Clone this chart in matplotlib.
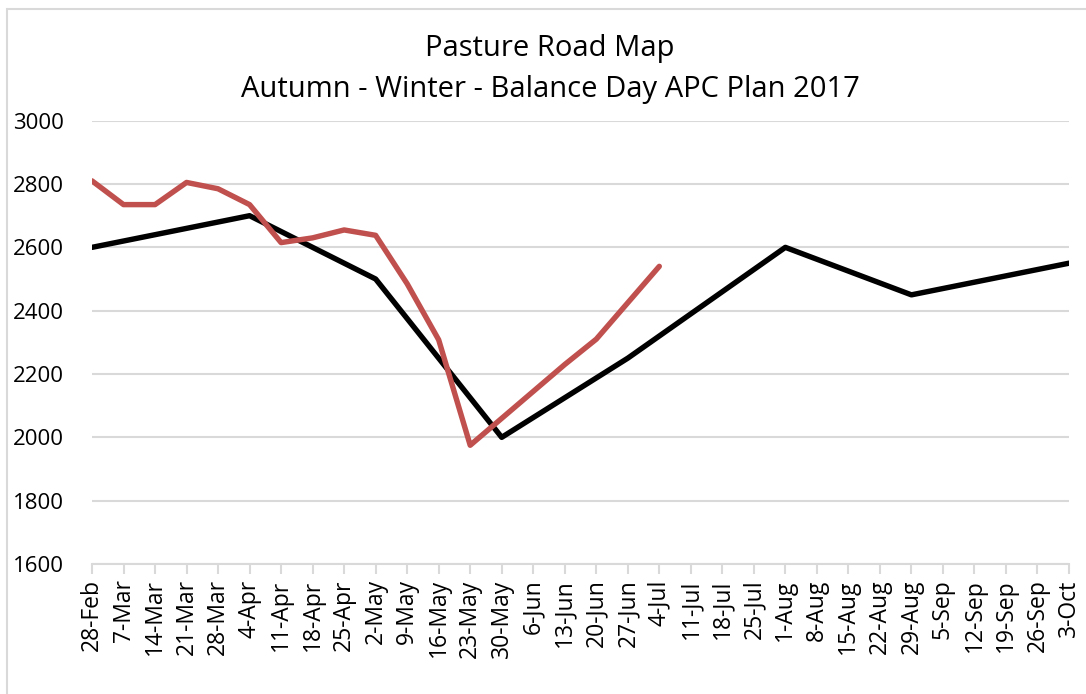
import matplotlib
matplotlib.use("Agg")
import matplotlib.pyplot as plt
import numpy as np
from matplotlib.patches import Rectangle

categories = ["28-Feb", "7-Mar", "14-Mar", "21-Mar", "28-Mar", "4-Apr", "11-Apr", "18-Apr",
              "25-Apr", "2-May", "9-May", "16-May", "23-May", "30-May", "6-Jun", "13-Jun",
              "20-Jun", "27-Jun", "4-Jul", "11-Jul", "18-Jul", "25-Jul", "1-Aug", "8-Aug",
              "15-Aug", "22-Aug", "29-Aug", "5-Sep", "12-Sep", "19-Sep", "26-Sep", "3-Oct"]

nan = np.nan
plan = [2600, nan, nan, nan, nan, 2700, nan, nan, nan, 2500, nan, nan, nan, 2000, nan, nan,
        nan, 2250, nan, nan, nan, nan, 2600, nan, nan, nan, 2450, nan, nan, nan, nan, 2550]
actual = [2810, 2735, 2735, 2805, 2785, 2735, 2615, 2630, 2655, 2638, 2485, 2308, 1975, 2060,
          2145, 2230, 2310, 2425, 2540] + [nan] * 13

title = "Pasture Road Map\nAutumn - Winter - Balance Day APC Plan 2017"
yticks = [1600, 1800, 2000, 2200, 2400, 2600, 2800, 3000]

plt.rcParams['font.family'] = ['Open Sans', 'DejaVu Sans']

W, H = 1086, 694
fig = plt.figure(figsize=(W / 100, H / 100), dpi=100)
ax = fig.add_axes([92 / W, 1 - 564 / H, (1069 - 92) / W, (564 - 120.7) / H])

x = np.arange(len(categories))
plan_a = np.array(plan, dtype=float)
act_a = np.array(actual, dtype=float)
mp = ~np.isnan(plan_a)
ma = ~np.isnan(act_a)

ax.plot(x[mp], plan_a[mp], color="black", lw=3.9, solid_joinstyle="round", solid_capstyle="round", zorder=3)
ax.plot(x[ma], act_a[ma], color="#C0504D", lw=3.9, solid_joinstyle="round", solid_capstyle="round", zorder=4)

ax.set_xlim(0, len(categories) - 1)
ax.set_ylim(1600, 3000)
ax.set_yticks(yticks)
ax.set_yticklabels([str(v) for v in yticks], fontsize=16)
ax.set_xticks(x)
ax.set_xticklabels(categories, rotation=90, fontsize=16.5)

ax.grid(axis="y", color="#d9d9d9", lw=1.5, zorder=0)
for s in ["top", "right", "left"]:
    ax.spines[s].set_visible(False)
ax.spines["bottom"].set_color("#d9d9d9")
ax.spines["bottom"].set_linewidth(1.5)
ax.tick_params(axis="y", length=0, pad=20)
ax.tick_params(axis="x", length=7, width=1.5, color="#d9d9d9", pad=4)

fig.text(550 / W, 1 - 69 / H, title, ha="center", va="center", fontsize=21, linespacing=1.55)

fig.patches.append(Rectangle((7 / W, -0.1), 1.2, 1.1 - 9 / H, transform=fig.transFigure,
                             fill=False, edgecolor="#d9d9d9", lw=1.5))

fig.savefig("out.png", dpi=100)
